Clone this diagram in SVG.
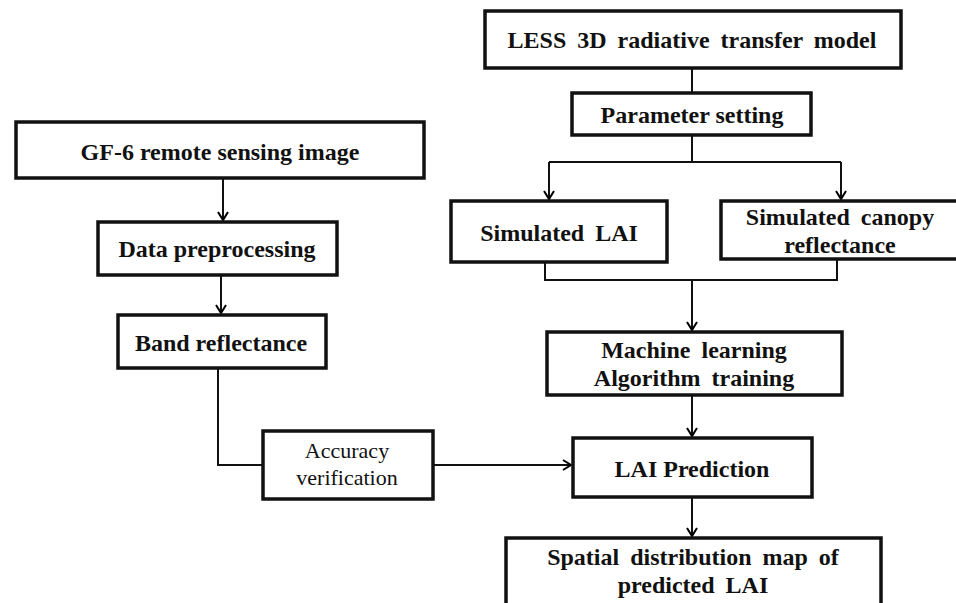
<svg xmlns="http://www.w3.org/2000/svg" width="956" height="603" viewBox="0 0 956 603">
<defs>
<marker id="arr" markerWidth="12" markerHeight="12" refX="10" refY="6" orient="auto" markerUnits="userSpaceOnUse">
<path d="M2,1 L10,6 L2,11" fill="none" stroke="#000" stroke-width="2"/>
</marker>
<style>
.box{fill:#fff;stroke:#111;stroke-width:3.5}
.t{font-family:"Liberation Serif","Times New Roman",serif;font-weight:bold;font-size:24px;fill:#111;text-anchor:middle}
.w{word-spacing:5px}
.n{font-family:"Liberation Serif","Times New Roman",serif;font-size:22px;fill:#111;text-anchor:middle}
.c{fill:none;stroke:#111;stroke-width:2}
</style>
</defs>
<rect width="956" height="603" fill="#fff"/>
<g id="connectors">
<path class="c" d="M223,178 V220" marker-end="url(#arr)"/>
<path class="c" d="M221,275 V313" marker-end="url(#arr)"/>
<path class="c" d="M218,368 V465 H263"/>
<path class="c" d="M433,465 H571" marker-end="url(#arr)"/>
<path class="c" d="M692,68 V93"/>
<path class="c" d="M692,135 V162"/>
<path class="c" d="M549,162 H841"/>
<path class="c" d="M549,162 V199" marker-end="url(#arr)"/>
<path class="c" d="M841,162 V199" marker-end="url(#arr)"/>
<path class="c" d="M545,262 V280 H837 V259"/>
<path class="c" d="M692,280 V330" marker-end="url(#arr)"/>
<path class="c" d="M692,395 V436" marker-end="url(#arr)"/>
<path class="c" d="M692,497 V536" marker-end="url(#arr)"/>
</g>
<g id="gf6">
<rect class="box" x="16" y="122" width="408" height="56"/>
<text class="t" x="220" y="160">GF-6 remote sensing image</text>
</g>
<g id="preproc">
<rect class="box" x="98" y="222" width="239" height="53"/>
<text class="t" x="217" y="257">Data preprocessing</text>
</g>
<g id="band">
<rect class="box" x="118" y="315" width="208" height="53"/>
<text class="t" x="221" y="351">Band reflectance</text>
</g>
<g id="accuracy">
<rect class="box" x="263" y="431" width="170" height="68"/>
<text class="n" x="347" y="458">Accuracy</text>
<text class="n" x="347" y="485">verification</text>
</g>
<g id="less">
<rect class="box" x="485" y="11" width="416" height="57"/>
<text class="t w" x="692" y="48">LESS 3D radiative transfer model</text>
</g>
<g id="param">
<rect class="box" x="572" y="93" width="239" height="42"/>
<text class="t" x="692" y="123">Parameter setting</text>
</g>
<g id="simlai">
<rect class="box" x="451" y="201" width="216" height="61"/>
<text class="t w" x="559" y="241">Simulated LAI</text>
</g>
<g id="canopy">
<rect class="box" x="721" y="201" width="245" height="58"/>
<text class="t w" x="840" y="225">Simulated canopy</text>
<text class="t" x="840" y="253">reflectance</text>
</g>
<g id="ml">
<rect class="box" x="547" y="332" width="295" height="63"/>
<text class="t w" x="694" y="358">Machine learning</text>
<text class="t w" x="694" y="386">Algorithm training</text>
</g>
<g id="laipred">
<rect class="box" x="573" y="438" width="239" height="59"/>
<text class="t" x="692" y="477">LAI Prediction</text>
</g>
<g id="spatial">
<rect class="box" x="506" y="538" width="375" height="80"/>
<text class="t w" x="693" y="565">Spatial distribution map of</text>
<text class="t w" x="693" y="593">predicted LAI</text>
</g>
</svg>
